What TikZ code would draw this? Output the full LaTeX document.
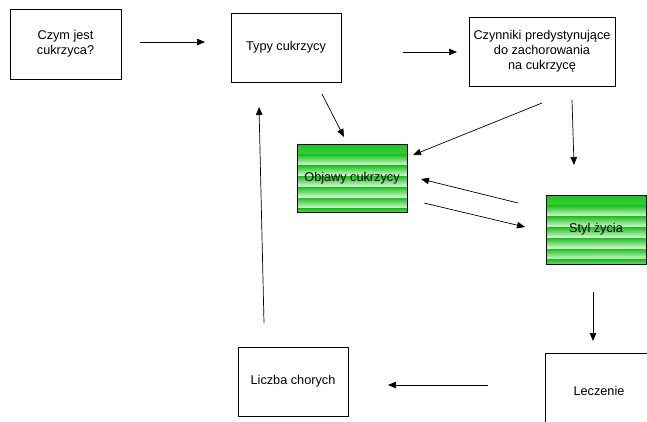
\documentclass[tikz,border=0pt]{standalone}
\usepackage{fontspec}
\setmainfont{Liberation Sans}
\usetikzlibrary{arrows.meta}

\definecolor{stripetop}{RGB}{28,196,28}
\definecolor{stripebot}{RGB}{232,250,232}

\begin{document}
\begin{tikzpicture}[
    x=1pt, y=-1pt,
    >={Triangle[length=8pt,width=6.5pt]},
    % Styling for the boxes
    plainbox/.style={rectangle, draw=black, line width=0.7pt, fill=white, align=center,
        font=\fontsize{12.7}{15}\selectfont},
    stripebox/.style={plainbox, draw=black, line width=0.9pt,
        path picture={
            \foreach \k in {0,...,7} {
                \shade[top color=stripetop, bottom color=stripebot]
                    ([yshift=-\k*10.8pt]path picture bounding box.north west) rectangle
                    ([yshift=-\k*10.8pt-10.8pt]path picture bounding box.north east);
            }
        }},
    link/.style={->, line width=0.7pt}
]
    \useasboundingbox (0,0) rectangle (647,421);
    \clip (0,0) rectangle (647,421);

    % Boxes
    \node[plainbox, minimum width=111pt, minimum height=70pt] (czym) at (65.5,44) {Czym jest\\cukrzyca?};
    \node[plainbox, minimum width=110pt, minimum height=69pt] (typy) at (286,47.5) {Typy cukrzycy};
    \node[plainbox, minimum width=146pt, minimum height=69pt] (czynniki) at (542,51.5)
        {Czynniki predystynujące\\do zachorowania\\na cukrzycę};
    \node[stripebox, minimum width=110pt, minimum height=68pt] (objawy) at (352,178) {Objawy cukrzycy};
    \node[stripebox, minimum width=100pt, minimum height=69pt] (styl) at (596,229.5) {Styl życia};
    \node[plainbox, minimum width=110pt, minimum height=69pt] (liczba) at (293,381.5) {Liczba chorych};
    \node[plainbox, minimum width=108pt, minimum height=76pt] (leczenie) at (599,391) {Leczenie};

    % Free arrow ends
    \coordinate (czymE)     at (140,42);   \coordinate (typyW)     at (205,42);
    \coordinate (typyE)     at (403,52);   \coordinate (czynnikiW) at (457,52);
    \coordinate (typyS)     at (322,94);   \coordinate (objawyN)   at (344,137);
    \coordinate (czynnikiSW) at (542,103); \coordinate (objawyNE)  at (413,155);
    \coordinate (czynnikiS) at (572,100);  \coordinate (stylN)     at (574,165);
    \coordinate (stylNW)    at (518,203);  \coordinate (objawyE)   at (421,179);
    \coordinate (objawySE)  at (424,203);  \coordinate (stylW)     at (525,227);
    \coordinate (stylS)     at (593,292);  \coordinate (leczenieN) at (593,341);
    \coordinate (leczenieW) at (488,385);  \coordinate (liczbaE)   at (388,385);
    \coordinate (liczbaN)   at (264,323);  \coordinate (typyB)     at (259,107);

    % Arrows
    \draw[link] (czymE) -- (typyW);
    \draw[link] (typyE) -- (czynnikiW);
    \draw[link] (typyS) -- (objawyN);
    \draw[link] (czynnikiSW) -- (objawyNE);
    \draw[link] (czynnikiS) -- (stylN);
    \draw[link] (stylNW) -- (objawyE);
    \draw[link] (objawySE) -- (stylW);
    \draw[link] (stylS) -- (leczenieN);
    \draw[link] (leczenieW) -- (liczbaE);
    \draw[link] (liczbaN) -- (typyB);

\end{tikzpicture}
\end{document}
